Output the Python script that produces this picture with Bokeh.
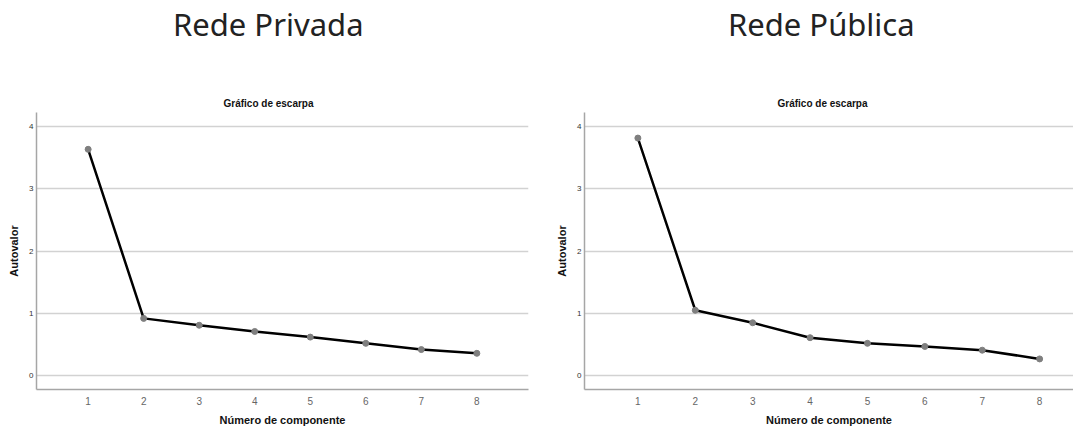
from bokeh.plotting import figure
from bokeh.layouts import row, column
from bokeh.models import FixedTicker, Range1d, Div
from bokeh.embed import file_html
from bokeh.resources import INLINE

# ---- data ----
componentes = [1, 2, 3, 4, 5, 6, 7, 8]
autovalor_privada = [3.63, 0.92, 0.81, 0.71, 0.62, 0.52, 0.42, 0.36]
autovalor_publica = [3.81, 1.05, 0.85, 0.61, 0.52, 0.47, 0.41, 0.27]
y_ticks = [0, 1, 2, 3, 4]
titulos = ["Rede Privada", "Rede Pública"]
subtitulo = "Gráfico de escarpa"
x_label = "Número de componente"
y_label = "Autovalor"

TITLE_H = 52


def heading(text, width, pad_left):
    return Div(text=text, width=width, height=TITLE_H,
               styles={"font-family": "Noto Sans", "font-size": "31px",
                       "line-height": "48px", "color": "#222222",
                       "padding-left": f"{pad_left}px", "margin": "0",
                       "white-space": "nowrap"})


def make(vals, width, mb_left, mb_right, mb_top, mb_bottom, x_end, sub_offset):
    p = figure(width=width, height=429 - TITLE_H, output_backend="svg",
               toolbar_location=None,
               x_range=Range1d(0.07, x_end), y_range=Range1d(-0.22, 4.22),
               min_border_left=mb_left, min_border_right=mb_right,
               min_border_top=mb_top, min_border_bottom=mb_bottom,
               title=subtitulo)
    p.title.text_font = "Liberation Sans"
    p.title.text_font_size = "10px"
    p.title.text_font_style = "bold"
    p.title.align = "left"
    p.title.offset = sub_offset
    p.title.standoff = 7
    p.title.text_color = "#111111"
    p.outline_line_color = None
    p.background_fill_color = "white"
    p.border_fill_color = "white"
    p.xgrid.visible = False
    p.ygrid.grid_line_color = "#d2d2d2"
    p.ygrid.grid_line_width = 1.5
    p.xaxis.ticker = FixedTicker(ticks=componentes)
    p.yaxis.ticker = FixedTicker(ticks=y_ticks)
    for ax in (p.xaxis[0], p.yaxis[0]):
        ax.axis_line_color = "#a6a6a6"
        ax.axis_line_width = 1.5
        ax.major_tick_line_color = None
        ax.minor_tick_line_color = None
        ax.major_tick_out = 0
        ax.major_tick_in = 0
        ax.minor_tick_out = 0
        ax.minor_tick_in = 0
        ax.major_label_text_font = "Liberation Sans"
        ax.axis_label_text_font = "Liberation Sans"
        ax.axis_label_text_font_style = "bold"
        ax.axis_label_text_font_size = "11px"
        ax.axis_label_text_color = "#111111"
    p.xaxis.axis_label = x_label
    p.yaxis.axis_label = y_label
    p.xaxis.major_label_text_font_size = "10px"
    p.xaxis.major_label_text_color = "#666666"
    p.yaxis.major_label_text_font_size = "8px"
    p.yaxis.major_label_text_color = "#333333"
    p.xaxis.major_label_standoff = 7
    p.xaxis.axis_label_standoff = 6
    p.yaxis.major_label_standoff = 3
    p.yaxis.axis_label_standoff = 6
    p.line(componentes, vals, line_color="black", line_width=2.5)
    p.scatter(componentes, vals, size=6, fill_color="#7f7f7f", line_color="#7f7f7f")
    return p


h1 = heading(titulos[0], 548, 173)
h2 = heading(titulos[1], 525, 180)
p1 = make(autovalor_privada, 548, 36, 20, 111 - TITLE_H, 40, 8.93, 187)
p2 = make(autovalor_publica, 525, 36, 0, 112 - TITLE_H, 38, 8.59, 193)
layout = column(row(h1, h2), row(p1, p2))
open("out.html", "w").write(file_html(layout, INLINE))
